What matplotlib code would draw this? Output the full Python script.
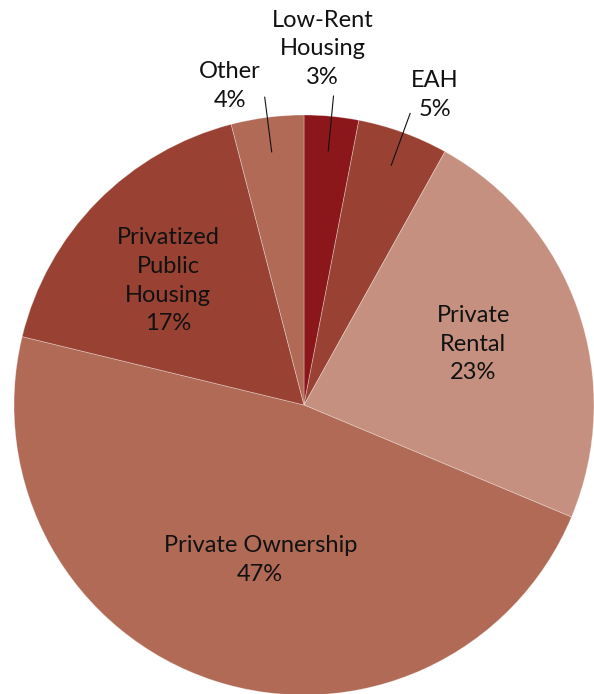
import numpy as np
import matplotlib
matplotlib.use("Agg")
import matplotlib.pyplot as plt

# Housing tenure shares (percent)
categories = ["Low-Rent\nHousing", "EAH", "Private\nRental", "Private Ownership",
              "Privatized\nPublic\nHousing", "Other"]
shares = [3, 5, 23, 47, 17, 4]
colors = ["#8B171A", "#994233", "#C69080", "#B06A55", "#994233", "#B06A55"]

# label placement: (inside?, radius factor for text, angle shift in degrees)
placement = [(False, 1.23, 2.5), (False, 1.16, -2.9), (True, 0.62, 0.7),
             (True, 0.555, 2.4), (True, 0.634, 2.1), (False, 1.13, 5.8)]

W, H = 594, 694
cx, cy, R = 304, 405, 290

fig = plt.figure(figsize=(W / 100, H / 100), dpi=100)
ax = fig.add_axes([0, 0, 1, 1])

wedges, _ = ax.pie(shares, colors=colors, startangle=90, counterclock=False,
                   radius=1.0, center=(0, 0),
                   wedgeprops=dict(edgecolor=(1, 1, 1, 0.35), linewidth=0.6))

ax.set_xlim(-cx / R, (W - cx) / R)
ax.set_ylim(-(H - cy) / R, cy / R)
ax.set_aspect("auto")
ax.axis("off")

font = dict(family=["Lato", "DejaVu Sans"], fontsize=17, color="#111111",
            linespacing=1.45, ha="center", va="center")

for w, name, val, (inside, rf, shift) in zip(wedges, categories, shares, placement):
    mid = np.deg2rad((w.theta1 + w.theta2) / 2)
    txt = f"{name}\n{val}%"
    a = mid + np.deg2rad(shift)
    ax.text(rf * np.cos(a), rf * np.sin(a), txt, **font)
    if not inside:
        r0, r1 = 0.88, 1.07
        ax.plot([r0 * np.cos(mid), r1 * np.cos(mid)],
                [r0 * np.sin(mid), r1 * np.sin(mid)],
                color="#111111", linewidth=0.8)

fig.savefig("out.png", dpi=100, facecolor="white")
